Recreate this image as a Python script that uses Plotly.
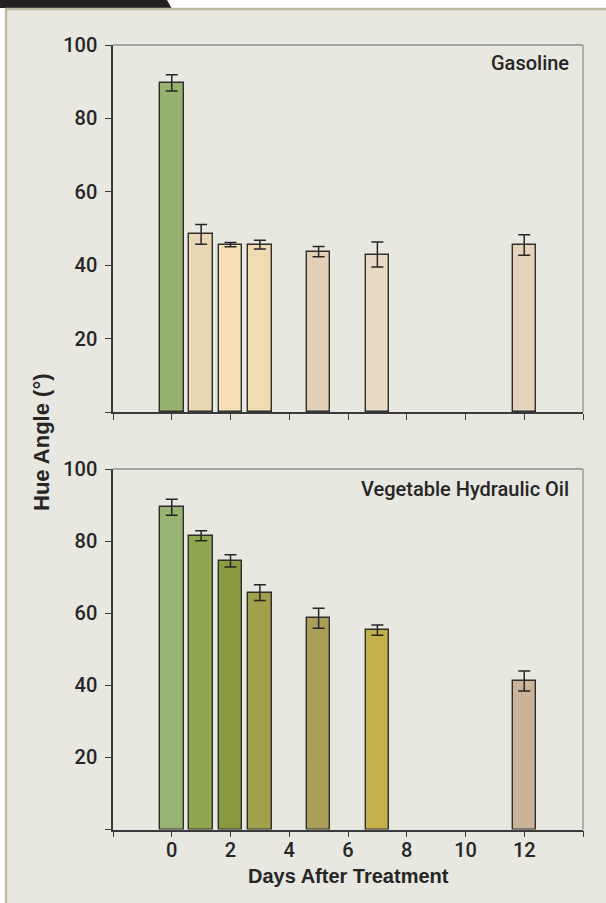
import plotly.graph_objects as go

# ---- data -----------------------------------------------------------
days = [0, 1, 2, 3, 5, 7, 12]

gasoline_hue = [89.7, 48.4, 45.6, 45.6, 43.7, 42.9, 45.5]
gasoline_err = [2.2, 2.7, 0.6, 1.2, 1.4, 3.4, 2.8]
gasoline_colors = ["#96B26E", "#E9D7B5", "#F6DFB5", "#F1DBB2",
                   "#E2D1B6", "#E9DAC5", "#E4D2BA"]

veg_oil_hue = [89.4, 81.5, 74.5, 65.7, 58.6, 55.3, 41.2]
veg_oil_err = [2.2, 1.4, 1.7, 2.2, 2.8, 1.4, 2.8]
veg_oil_colors = ["#97B472", "#8FA84D", "#8A9A40", "#A1A14B",
                  "#A99F58", "#C4AF4A", "#CAB399"]

panel_titles = ["Gasoline", "Vegetable Hydraulic Oil"]
x_ticks = [-2, 0, 2, 4, 6, 8, 10, 12, 14]
x_tick_text = ["", "0", "2", "4", "6", "8", "10", "12", ""]
y_ticks = [0, 20, 40, 60, 80, 100]
y_tick_text = ["", "20", "40", "60", "80", "100"]

# ---- page geometry (pixels -> paper fractions) -----------------------
W, H = 606, 903
BG = "#E8E7E0"
TAN = "#BEBCA3"
INK = "#262626"
FONT = "Roboto, Liberation Sans, Arial, sans-serif"
BOLD_FONT = "Liberation Sans, Arial, sans-serif"


def px(x):
    return x / W


def py(y):
    return 1 - y / H


x_dom = [px(113), px(583)]
top_dom = [py(412), py(45)]
bot_dom = [py(829.5), py(469)]

fig = go.Figure()

for i, (vals, errs, cols) in enumerate([
        (gasoline_hue, gasoline_err, gasoline_colors),
        (veg_oil_hue, veg_oil_err, veg_oil_colors)]):
    suffix = "" if i == 0 else "2"
    fig.add_trace(go.Bar(
        x=days, y=vals, width=0.8,
        marker=dict(color=cols, line=dict(color="#2E2E2E", width=1.4)),
        error_y=dict(type="data", array=errs, visible=True,
                     color=INK, thickness=1.5, width=6),
        xaxis="x" + suffix, yaxis="y" + suffix,
        showlegend=False, hoverinfo="x+y",
    ))

tick_font = dict(family=FONT, size=20, color=INK, weight=500)

axis_common = dict(
    range=[-2, 14], tickvals=x_ticks, ticks="outside", ticklen=6,
    tickwidth=1.3, tickcolor="#3A3A3A", showline=True, linecolor="#3A3A3A",
    linewidth=1.5, showgrid=False, zeroline=False, fixedrange=True,
    automargin=False,
)
yaxis_common = dict(
    range=[0, 100], tickvals=y_ticks, ticktext=y_tick_text,
    ticks="outside", ticklen=6, tickwidth=1.3, tickcolor="#3A3A3A",
    showline=True, linecolor="#3A3A3A", linewidth=1.5, showgrid=False,
    zeroline=False, fixedrange=True, ticklabelstandoff=4,
    tickfont=tick_font, automargin=False,
)

fig.update_layout(
    width=W, height=H,
    margin=dict(l=0, r=0, t=0, b=0, autoexpand=False),
    paper_bgcolor=BG, plot_bgcolor=BG,
    bargap=0,
    xaxis=dict(domain=x_dom, anchor="y", showticklabels=False,
               **axis_common),
    yaxis=dict(domain=top_dom, anchor="x", **yaxis_common),
    xaxis2=dict(domain=x_dom, anchor="y2", ticktext=x_tick_text,
                tickfont=tick_font, ticklabelstandoff=-4, **axis_common),
    yaxis2=dict(domain=bot_dom, anchor="x2", **yaxis_common),
)

shapes = []
# light frame on the top and right of each panel
for xr, yr in [("x", "y"), ("x2", "y2")]:
    shapes.append(dict(type="line", xref=xr + " domain", yref=yr + " domain",
                       x0=0, x1=1, y0=1, y1=1,
                       line=dict(color="#8E8E8E", width=1.3)))
    shapes.append(dict(type="line", xref=xr + " domain", yref=yr + " domain",
                       x0=1, x1=1, y0=0, y1=1,
                       line=dict(color="#8E8E8E", width=1.3)))

# page furniture: white margin strips, black header tab, tan rules
shapes += [
    dict(type="rect", xref="paper", yref="paper", x0=0, x1=1,
         y0=py(8), y1=1, fillcolor="white", line=dict(width=0), layer="below"),
    dict(type="rect", xref="paper", yref="paper", x0=0, x1=px(5),
         y0=0, y1=1, fillcolor="white", line=dict(width=0), layer="below"),
    dict(type="path", xref="paper", yref="paper",
         path=f"M 0 1 L {px(167)} 1 L {px(171.5)} {py(8)} L 0 {py(8)} Z",
         fillcolor="#231F20", line=dict(width=0)),
    dict(type="line", xref="paper", yref="paper", x0=px(5), x1=1,
         y0=py(9), y1=py(9), line=dict(color=TAN, width=2.5)),
    dict(type="line", xref="paper", yref="paper", x0=px(6), x1=px(6),
         y0=0, y1=py(9), line=dict(color=TAN, width=2.5)),
]
fig.update_layout(shapes=shapes)

title_font = dict(family=FONT, size=20, color=INK, weight=500)
annotations = [
    dict(text=panel_titles[0], xref="paper", yref="paper",
         x=px(571), y=py(63), xanchor="right", yanchor="middle",
         showarrow=False, font=title_font),
    dict(text=panel_titles[1], xref="paper", yref="paper",
         x=px(571), y=py(489), xanchor="right", yanchor="middle",
         showarrow=False, font=title_font),
    dict(text="<b>Hue Angle (°)</b>", xref="paper", yref="paper",
         x=px(42), y=py(442), xanchor="center", yanchor="middle",
         textangle=-90, showarrow=False,
         font=dict(family=BOLD_FONT, size=22, color=INK)),
    dict(text="<b>Days After Treatment</b>", xref="paper", yref="paper",
         x=px(348), y=py(876), xanchor="center", yanchor="middle",
         showarrow=False, font=dict(family=BOLD_FONT, size=20, color=INK)),
]
fig.update_layout(annotations=annotations)

fig.write_html("out.html")
